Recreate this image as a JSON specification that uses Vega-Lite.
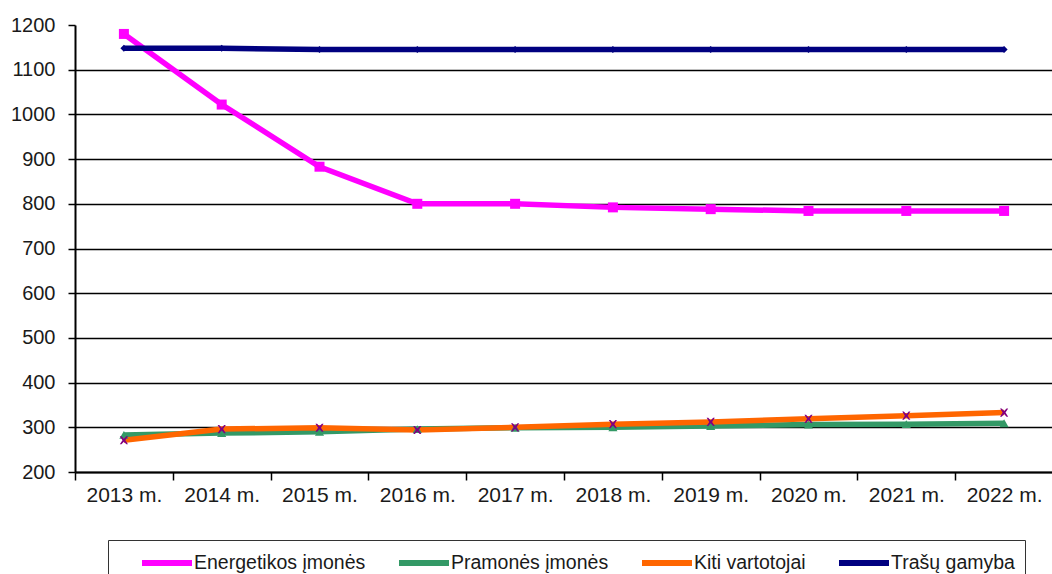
{
  "$schema": "https://vega.github.io/schema/vega-lite/v6.json",
  "width": 978,
  "height": 447,
  "autosize": "none",
  "padding": {"left": 75, "top": 25, "right": 0, "bottom": 102},
  "background": "white",
  "config": {
    "font": "Liberation Sans",
    "view": {"stroke": null}
  },
  "data": {
    "values": [
      {"year": "2013 m.", "series": "Energetikos įmonės", "value": 1180},
      {"year": "2014 m.", "series": "Energetikos įmonės", "value": 1022},
      {"year": "2015 m.", "series": "Energetikos įmonės", "value": 883},
      {"year": "2016 m.", "series": "Energetikos įmonės", "value": 800},
      {"year": "2017 m.", "series": "Energetikos įmonės", "value": 800},
      {"year": "2018 m.", "series": "Energetikos įmonės", "value": 792},
      {"year": "2019 m.", "series": "Energetikos įmonės", "value": 788},
      {"year": "2020 m.", "series": "Energetikos įmonės", "value": 784},
      {"year": "2021 m.", "series": "Energetikos įmonės", "value": 784},
      {"year": "2022 m.", "series": "Energetikos įmonės", "value": 784},
      {"year": "2013 m.", "series": "Pramonės įmonės", "value": 283},
      {"year": "2014 m.", "series": "Pramonės įmonės", "value": 287},
      {"year": "2015 m.", "series": "Pramonės įmonės", "value": 290},
      {"year": "2016 m.", "series": "Pramonės įmonės", "value": 296},
      {"year": "2017 m.", "series": "Pramonės įmonės", "value": 299},
      {"year": "2018 m.", "series": "Pramonės įmonės", "value": 300},
      {"year": "2019 m.", "series": "Pramonės įmonės", "value": 303},
      {"year": "2020 m.", "series": "Pramonės įmonės", "value": 306},
      {"year": "2021 m.", "series": "Pramonės įmonės", "value": 307},
      {"year": "2022 m.", "series": "Pramonės įmonės", "value": 309},
      {"year": "2013 m.", "series": "Kiti vartotojai", "value": 271},
      {"year": "2014 m.", "series": "Kiti vartotojai", "value": 296},
      {"year": "2015 m.", "series": "Kiti vartotojai", "value": 299},
      {"year": "2016 m.", "series": "Kiti vartotojai", "value": 294},
      {"year": "2017 m.", "series": "Kiti vartotojai", "value": 300},
      {"year": "2018 m.", "series": "Kiti vartotojai", "value": 307},
      {"year": "2019 m.", "series": "Kiti vartotojai", "value": 312},
      {"year": "2020 m.", "series": "Kiti vartotojai", "value": 319},
      {"year": "2021 m.", "series": "Kiti vartotojai", "value": 326},
      {"year": "2022 m.", "series": "Kiti vartotojai", "value": 333},
      {"year": "2013 m.", "series": "Trašų gamyba", "value": 1148},
      {"year": "2014 m.", "series": "Trašų gamyba", "value": 1148},
      {"year": "2015 m.", "series": "Trašų gamyba", "value": 1145},
      {"year": "2016 m.", "series": "Trašų gamyba", "value": 1145},
      {"year": "2017 m.", "series": "Trašų gamyba", "value": 1145},
      {"year": "2018 m.", "series": "Trašų gamyba", "value": 1145},
      {"year": "2019 m.", "series": "Trašų gamyba", "value": 1145},
      {"year": "2020 m.", "series": "Trašų gamyba", "value": 1145},
      {"year": "2021 m.", "series": "Trašų gamyba", "value": 1145},
      {"year": "2022 m.", "series": "Trašų gamyba", "value": 1145}
    ]
  },
  "encoding": {
    "x": {
      "field": "year",
      "type": "ordinal",
      "bandPosition": 0.5,
      "scale": {"type": "band", "paddingInner": 0, "paddingOuter": 0},
      "axis": {
        "title": null,
        "labelAngle": 0,
        "tickBand": "extent",
        "tickSize": 8,
        "tickColor": "black",
        "tickWidth": 1.5,
        "domainColor": "black",
        "domainWidth": 2,
        "labelFontSize": 21,
        "labelColor": "#1a1a1a",
        "labelPadding": 4,
        "grid": false
      }
    },
    "y": {
      "field": "value",
      "type": "quantitative",
      "scale": {"domain": [200, 1200], "nice": false, "zero": false},
      "axis": {
        "title": null,
        "format": "d",
        "values": [200, 300, 400, 500, 600, 700, 800, 900, 1000, 1100, 1200],
        "grid": true,
        "gridColor": "black",
        "gridWidth": 1.5,
        "gridOpacity": {"condition": {"test": "datum.value == 1200", "value": 0}, "value": 1},
        "tickSize": 7,
        "tickColor": "black",
        "tickWidth": 1.5,
        "domainColor": "black",
        "domainWidth": 2,
        "labelFontSize": 20,
        "labelColor": "#1a1a1a",
        "labelPadding": 13
      }
    }
  },
  "layer": [
    {
      "mark": {"type": "line", "strokeWidth": 5.5},
      "encoding": {
        "color": {
          "field": "series",
          "type": "nominal",
          "sort": ["Energetikos įmonės", "Pramonės įmonės", "Kiti vartotojai", "Trašų gamyba"],
          "scale": {
            "domain": ["Energetikos įmonės", "Pramonės įmonės", "Kiti vartotojai", "Trašų gamyba"],
            "range": ["#FF00FF", "#339966", "#FF6600", "#000080"]
          },
          "legend": {
            "title": null,
            "orient": "none",
            "direction": "horizontal",
            "legendX": 33,
            "legendY": 515,
            "symbolType": "M-2.5,0H2.5",
            "symbolSize": 400,
            "symbolStrokeWidth": 6,
            "symbolOffset": 36,
            "labelFontSize": 19.5,
            "labelLimit": 400,
            "labelColor": "#1a1a1a",
            "labelOffset": 14,
            "columnPadding": 9,
            "padding": 10,
            "strokeColor": "#333333"
          }
        }
      }
    },
    {
      "mark": {"type": "point", "filled": true, "opacity": 1},
      "encoding": {
        "color": {
          "field": "series",
          "type": "nominal",
          "scale": {
            "domain": ["Energetikos įmonės", "Pramonės įmonės", "Kiti vartotojai", "Trašų gamyba"],
            "range": ["#FF00FF", "#339966", "#800080", "#000080"]
          },
          "legend": null
        },
        "shape": {
          "field": "series",
          "type": "nominal",
          "scale": {
            "domain": ["Energetikos įmonės", "Pramonės įmonės", "Kiti vartotojai", "Trašų gamyba"],
            "range": ["square", "triangle-up", "M-1,-1L-0.6,-1L0,-0.35L0.6,-1L1,-1L0.35,0L1,1L0.6,1L0,0.35L-0.6,1L-1,1L-0.35,0Z", "diamond"]
          },
          "legend": null
        },
        "size": {
          "field": "series",
          "type": "nominal",
          "scale": {
            "domain": ["Energetikos įmonės", "Pramonės įmonės", "Kiti vartotojai", "Trašų gamyba"],
            "range": [100, 50, 70, 30]
          },
          "legend": null
        }
      }
    }
  ],
  "resolve": {"scale": {"color": "independent"}}
}
